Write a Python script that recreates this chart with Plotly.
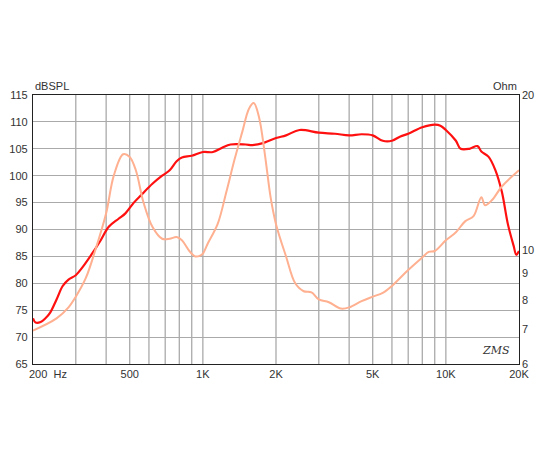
import plotly.graph_objects as go
import math

spl_f = [200,205,215,225,235,250,265,280,300,320,350,380,410,450,480,520,560,620,680,730,780,820,900,1000,1100,1200,1300,1500,1600,1750,2000,2200,2500,3000,3500,4000,4500,5000,5500,6000,6500,7000,8000,9000,9500,10000,11000,11500,12500,13500,14000,15000,16000,17000,18000,19000,19500,20000]
spl_db = [73.5,72.7,72.8,73.5,74.5,77,79.5,80.7,81.5,83,85.5,88,90.5,92,93,95,96.5,98.5,100,101,102.7,103.4,103.7,104.4,104.4,105.2,105.8,105.8,105.7,106,107,107.5,108.5,108,107.8,107.5,107.7,107.5,106.5,106.5,107.3,107.8,109,109.5,109.3,108.5,106.5,105,105,105.5,104.5,103.5,101,97,91,87,85.3,86]

imp_f = [200,250,280,300,330,360,400,430,470,500,530,570,620,680,730,780,820,880,930,980,1000,1050,1150,1250,1350,1450,1550,1620,1700,1800,1900,2000,2200,2400,2600,2800,3000,3300,3700,4000,4500,5000,5500,6000,7000,8000,8500,9000,10000,11000,12000,13000,14000,14500,15500,17000,20000]
imp_ohm = [6.97,7.36,7.73,8.11,8.82,9.95,11.78,13.94,15.34,15.16,14.28,12.36,11.09,10.51,10.51,10.59,10.44,9.95,9.71,9.76,9.83,10.31,11.22,12.97,14.98,16.90,18.83,19.29,18.17,15.34,12.66,11.22,9.71,8.61,8.31,8.27,8.01,7.91,7.69,7.73,7.95,8.11,8.25,8.51,9.14,9.67,9.91,9.95,10.44,10.82,11.36,11.63,12.66,12.21,12.50,13.28,14.28]

x_tickvals = [500,1000,2000,5000,10000,20000]
x_ticktext = ["500","1K","2K","5K","10K","20K"]
x_grid = [300,400,500,600,700,800,900,1000,2000,3000,4000,5000,6000,7000,8000,9000,10000]
y_ticks = [65,70,75,80,85,90,95,100,105,110,115]
ohm_ticks = [6,7,8,9,10,20]

fig = go.Figure()
fig.add_trace(go.Scatter(x=imp_f, y=imp_ohm, yaxis="y2", mode="lines",
                         line=dict(color="#FFB090", width=2, shape="spline"), showlegend=False))
fig.add_trace(go.Scatter(x=spl_f, y=spl_db, mode="lines",
                         line=dict(color="#FF1010", width=2.2, shape="spline"), showlegend=False))

for g in x_grid:
    fig.add_shape(type="line", xref="x", yref="paper", x0=g, x1=g, y0=0, y1=1,
                  line=dict(color="#AAAAAA", width=1.3), layer="below")

font = dict(family="Liberation Sans, Arial", size=11, color="#333333")
fig.update_layout(
    width=550, height=450, plot_bgcolor="white", paper_bgcolor="white",
    margin=dict(l=25, r=39, t=87, b=94, autoexpand=False),
    font=font,
    xaxis=dict(type="log", range=[math.log10(200), math.log10(20000)],
               tickvals=x_tickvals, ticktext=x_ticktext, showgrid=False,
               showline=True, linecolor="#222", linewidth=1.2, mirror=True,
               ticks="", tickfont=font, automargin=False),
    yaxis=dict(range=[65,115], tickvals=y_ticks, showgrid=True, gridcolor="#AAAAAA",
               gridwidth=1.3, showline=True, linecolor="#222", linewidth=1.2,
               mirror=True, ticks="", zeroline=False, tickfont=font, automargin=False,
               ticklabelstandoff=2),
    yaxis2=dict(type="log", range=[math.log10(6), math.log10(20)], overlaying="y",
                side="right", tickvals=ohm_ticks, ticktext=[str(t) for t in ohm_ticks],
                showgrid=False, ticks="", zeroline=False, tickfont=font, automargin=False,
                ticklabelstandoff=2),
    annotations=[
        dict(text="200  Hz", xref="paper", yref="paper", x=0, y=0, xanchor="left",
             yanchor="top", showarrow=False, font=font, xshift=-6, yshift=-2),
        dict(text="dBSPL", xref="paper", yref="paper", x=0, y=1, xanchor="left",
             yanchor="bottom", showarrow=False, font=font, yshift=1),
        dict(text="Ohm", xref="paper", yref="paper", x=1, y=1, xanchor="right",
             yanchor="bottom", showarrow=False, font=font, yshift=1),
        dict(text="<i>ZMS</i>", xref="paper", yref="paper", x=0.985, y=0.02,
             xanchor="right", yanchor="bottom", showarrow=False,
             font=dict(family="DejaVu Serif", size=11, color="#333")),
    ],
)
fig.write_html("out.html")
